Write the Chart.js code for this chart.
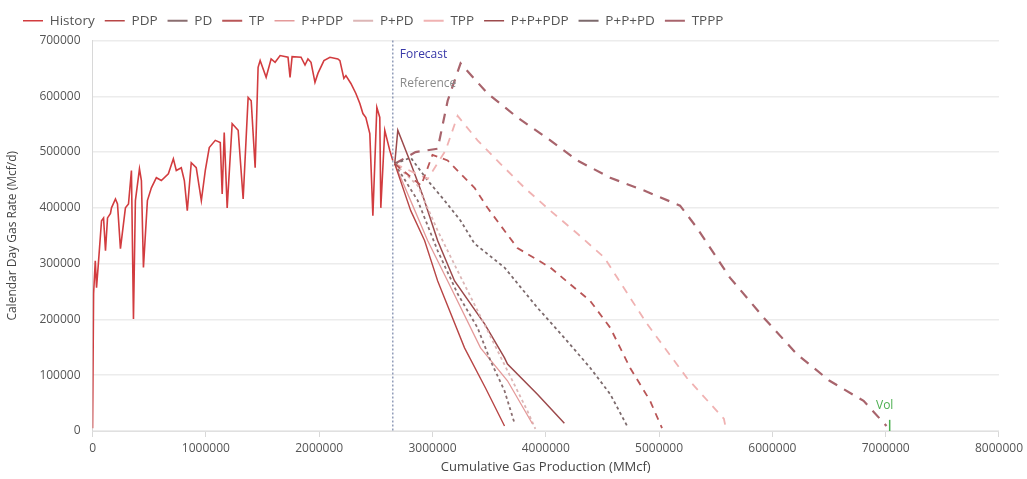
<!DOCTYPE html>
<html>
<head>
<meta charset="utf-8">
<script src="https://cdn.jsdelivr.net/npm/chart.js@4.4.1/dist/chart.umd.min.js"></script>
<style>
  html, body { margin: 0; padding: 0; background: #fff; overflow: hidden; }
  #wrap { position: relative; width: 1027px; height: 479px; }
</style>
</head>
<body>
<div id="wrap"><canvas id="rateChart"></canvas></div>
<script>
// cumulative gas (MMcf) and rate (Mcf/d)
const historyX = [0, 9000, 24000, 35000, 53000, 79000, 97000, 114000, 132000, 158000, 167000, 202000, 220000, 246000, 290000, 317000, 343000, 361000, 378000, 414000, 431000, 449000, 484000, 519000, 563000, 607000, 669000, 713000, 739000, 783000, 810000, 836000, 871000, 915000, 960000, 995000, 1030000, 1083000, 1127000, 1144000, 1162000, 1188000, 1232000, 1285000, 1329000, 1373000, 1400000, 1435000, 1461000, 1479000, 1532000, 1576000, 1611000, 1655000, 1725000, 1743000, 1761000, 1840000, 1875000, 1901000, 1928000, 1963000, 1989000, 2042000, 2095000, 2165000, 2183000, 2218000, 2236000, 2280000, 2324000, 2359000, 2386000, 2412000, 2447000, 2474000, 2509000, 2535000, 2544000, 2579000, 2623000, 2650000];
const historyY = [5000, 246000, 305000, 257000, 305000, 377000, 382000, 323000, 382000, 390000, 400000, 416000, 407000, 327000, 400000, 407000, 467000, 201000, 413000, 470000, 449000, 293000, 413000, 436000, 454000, 449000, 461000, 488000, 467000, 472000, 449000, 395000, 481000, 472000, 413000, 467000, 508000, 521000, 517000, 425000, 535000, 400000, 551000, 539000, 416000, 598000, 592000, 472000, 652000, 664000, 634000, 667000, 661000, 673000, 670000, 634000, 671000, 670000, 656000, 667000, 661000, 625000, 641000, 664000, 670000, 667000, 664000, 632000, 637000, 623000, 605000, 587000, 569000, 562000, 533000, 386000, 580000, 562000, 400000, 539000, 503000, 485000];

const pdpX = [2667000, 2808000, 2931000, 3046000, 3283000, 3468000, 3636000];
const pdpY = [479000, 395000, 341000, 269000, 149000, 77000, 9000];

const pdX = [2667000, 2870000, 3046000, 3222000, 3398000, 3512000, 3636000, 3724000];
const pdY = [479000, 413000, 323000, 246000, 185000, 126000, 72000, 14000];

const tpX = [2667000, 2900000, 3000000, 3134000, 3248000, 3371000, 3486000, 3636000, 3750000, 4040000, 4393000, 4569000, 4745000, 4921000, 5026000];
const tpY = [479000, 440000, 495000, 485000, 461000, 436000, 400000, 359000, 328000, 293000, 233000, 185000, 113000, 54000, 5000];

const ppdpX = [2667000, 2826000, 2958000, 3134000, 3424000, 3662000, 3882000];
const ppdpY = [479000, 404000, 341000, 269000, 149000, 90000, 13000];

const ppdX = [2667000, 2870000, 3046000, 3222000, 3486000, 3662000, 3838000, 3908000];
const ppdY = [479000, 440000, 359000, 287000, 180000, 108000, 36000, 4000];

const tppX = [2667000, 2958000, 3116000, 3222000, 3398000, 3600000, 3812000, 4040000, 4278000, 4516000, 4630000, 4894000, 5246000, 5572000, 5590000];
const tppY = [479000, 452000, 503000, 565000, 521000, 479000, 436000, 395000, 354000, 311000, 275000, 192000, 95000, 22000, 4000];

const pppdpX = [2667000, 2694000, 2799000, 2914000, 3046000, 3195000, 3460000, 3636000, 3662000, 3926000, 4164000];
const pppdpY = [479000, 539000, 485000, 422000, 341000, 269000, 192000, 131000, 120000, 66000, 14000];

const pppdX = [2667000, 2808000, 2958000, 3107000, 3248000, 3371000, 3636000, 3926000, 4164000, 4393000, 4569000, 4718000];
const pppdY = [479000, 490000, 449000, 413000, 377000, 336000, 293000, 221000, 167000, 113000, 66000, 9000];

const tpppX = [2667000, 2850000, 3046000, 3134000, 3248000, 3486000, 3750000, 4040000, 4278000, 4569000, 4868000, 5185000, 5335000, 5625000, 5924000, 6215000, 6505000, 6805000, 7007000];
const tpppY = [479000, 500000, 506000, 592000, 659000, 605000, 562000, 521000, 485000, 454000, 431000, 404000, 364000, 275000, 203000, 138000, 90000, 54000, 9000];

const forecastX = 2650000;
const volX = 7000000;
const xTicksMax = 8000000;
const yTicksMax = 700000;

const pts = (xs, ys) => xs.map((x, i) => ({ x, y: ys[i] }));

const line = (label, xs, ys, color, width, dash) => ({
    label,
    data: pts(xs, ys),
    borderColor: color,
    backgroundColor: color,
    borderWidth: width,
    borderDash: dash,
    pointRadius: 0,
    tension: 0,
    fill: false
});

const annotations = {
    id: 'annotations',
    afterDatasetsDraw(chart) {
        const { ctx, scales: { x, y } } = chart;
        const fx = x.getPixelForValue(forecastX);
        ctx.save();
        ctx.strokeStyle = '#7784a8';
        ctx.lineWidth = 1.2;
        ctx.setLineDash([2, 2]);
        ctx.beginPath();
        ctx.moveTo(fx, y.getPixelForValue(yTicksMax));
        ctx.lineTo(fx, y.getPixelForValue(0));
        ctx.stroke();
        ctx.setLineDash([]);
        ctx.textBaseline = 'middle';
        ctx.font = '12px "Open Sans"';
        ctx.fillStyle = '#3838a8';
        ctx.fillText('Forecast', fx + 7, y.getPixelForValue(675000));
        ctx.fillStyle = '#8a8a8a';
        ctx.fillText('Reference', fx + 7, y.getPixelForValue(623000));
        const vx = x.getPixelForValue(volX);
        ctx.fillStyle = '#4caf50';
        ctx.textAlign = 'center';
        ctx.fillText('Vol', vx - 1, y.getPixelForValue(45000));
        ctx.strokeStyle = '#4caf50';
        ctx.lineWidth = 1.5;
        ctx.beginPath();
        ctx.moveTo(vx + 4, y.getPixelForValue(20000));
        ctx.lineTo(vx + 4, y.getPixelForValue(0));
        ctx.stroke();
        ctx.restore();
    }
};

// nudge the legend: a bit more room below it, and start it further right
const legendShift = {
    id: 'legendShift',
    beforeInit(chart) {
        const fit = chart.legend.fit;
        chart.legend.fit = function () {
            fit.bind(chart.legend)();
            this.height += 3;
        };
    },
    afterLayout(chart) {
        chart.legend.left += 8;
    }
};

new Chart(document.getElementById('rateChart'), {
    type: 'line',
    data: {
        datasets: [
            line('History', historyX, historyY, '#d23c3f', 1.6, []),
            line('PDP', pdpX, pdpY, '#b84646', 1.4, []),
            line('PD', pdX, pdY, '#8a6e70', 1.8, [3, 3]),
            line('TP', tpX, tpY, '#b95657', 1.8, [7, 6]),
            line('P+PDP', ppdpX, ppdpY, '#e49a9a', 1.3, []),
            line('P+PD', ppdX, ppdY, '#dcb6b6', 1.8, [3, 3]),
            line('TPP', tppX, tppY, '#f0b2b2', 1.8, [8, 7]),
            line('P+P+PDP', pppdpX, pppdpY, '#9c4a4c', 1.5, []),
            line('P+P+PD', pppdX, pppdY, '#7c6a6c', 1.8, [3, 3]),
            line('TPPP', tpppX, tpppY, '#a8646c', 2.2, [10, 8])
        ]
    },
    options: {
        responsive: true,
        maintainAspectRatio: false,
        animation: false,
        layout: { padding: { left: 5, right: 0, top: 4, bottom: 4 } },
        scales: {
            x: {
                type: 'linear',
                min: 0,
                max: xTicksMax,
                ticks: {
                    stepSize: 1000000,
                    color: '#555',
                    font: { family: '"Open Sans"', size: 12 },
                    maxRotation: 0,
                    padding: 4,
                    callback: (value) => String(value)
                },
                grid: { display: true, drawOnChartArea: false, color: '#d8d8d8', tickLength: 6 },
                border: { color: '#e0e0e0' },
                title: {
                    display: true,
                    text: 'Cumulative Gas Production (MMcf)',
                    color: '#444',
                    font: { family: '"Open Sans"', size: 13 },
                    padding: { top: 0, bottom: 0 }
                }
            },
            y: {
                min: 0,
                max: yTicksMax,
                ticks: {
                    stepSize: 100000,
                    color: '#555',
                    font: { family: '"Open Sans"', size: 12 },
                    padding: 12,
                    callback: (value) => String(value)
                },
                grid: { color: '#ececec', drawTicks: false, lineWidth: 1.5 },
                border: { color: '#d8d8d8' },
                title: {
                    display: true,
                    text: 'Calendar Day Gas Rate (Mcf/d)',
                    color: '#444',
                    font: { family: '"Open Sans"', size: 12 },
                    padding: { top: 0, bottom: 8 }
                }
            }
        },
        plugins: {
            legend: {
                display: true,
                position: 'top',
                align: 'start',
                labels: {
                    usePointStyle: true,
                    pointStyle: 'line',
                    pointStyleWidth: 20,
                    color: '#555',
                    font: { family: '"Open Sans"', size: 13.5 },
                    padding: 10
                }
            },
            tooltip: { enabled: false }
        }
    },
    plugins: [annotations, legendShift]
});
</script>
</body>
</html>
